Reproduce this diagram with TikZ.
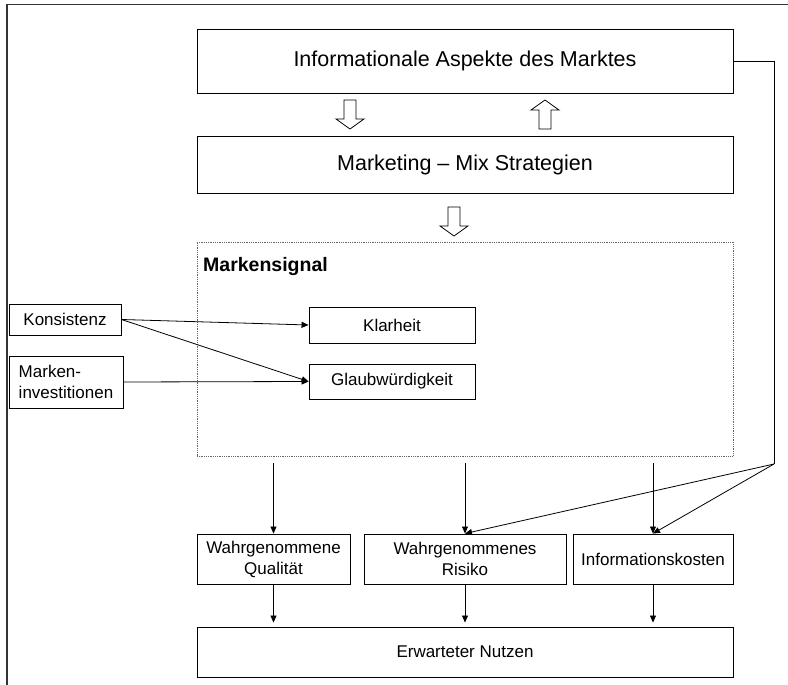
\documentclass[tikz,border=0pt]{standalone}
\usepackage{fontspec}
\setmainfont{Liberation Sans}
\usetikzlibrary{arrows.meta}
\begin{document}
\begin{tikzpicture}[x=1pt,y=-1pt,
  framebox/.style={draw=black, line width=0.9pt, inner sep=0pt, align=center},
  bigtext/.style={font=\fontsize{21.5}{25}\selectfont},
  smalltext/.style={font=\fontsize{17}{21}\selectfont},
  plainline/.style={line width=0.8pt},
  conn/.style={line width=0.8pt, -{Triangle[length=7pt,width=6pt]}},
  openarrow/.pic={\draw[line width=0.8pt, fill=white]
    (-6,-14.5) -- (-6,4.5) -- (-14,4.5) -- (0,14.5) -- (14,4.5) -- (6,4.5) -- (6,-14.5) -- cycle;}
]
\useasboundingbox (0,0) rectangle (788,685);

% open frame along the top and left edge
\draw[line width=1.6pt, black!80] (788,4.5) -- (7,4.5) -- (7,685);

% upper boxes
\node[framebox, bigtext, minimum width=536pt, minimum height=64pt] (markt) at (465,61) {Informationale Aspekte des Marktes};
\node[framebox, bigtext, minimum width=536pt, minimum height=57pt] (mix) at (465,164.5) {Marketing -- Mix Strategien};

% hollow block arrows
\pic at (350,114.5) {openarrow};
\pic[rotate=180] at (545,114.5) {openarrow};
\pic at (454,221.5) {openarrow};

% brand signal area
\node[draw=black!60, line width=0.9pt, dash pattern=on 0.9pt off 0.9pt, minimum width=536pt, minimum height=214pt, inner sep=0pt] (signal) at (465,349) {};
\node[anchor=base west, inner sep=0pt, font=\fontsize{19.5}{22}\selectfont\bfseries] (signaltitle) at (203,271) {Markensignal};

\node[framebox, smalltext, minimum width=166pt, minimum height=36pt] (klar) at (392,325) {Klarheit};
\node[framebox, smalltext, minimum width=166pt, minimum height=35pt] (glaub) at (392,381.5) {Glaubwürdigkeit};

% drivers on the left
\node[framebox, smalltext, minimum width=112pt, minimum height=31pt] (kons) at (65,319.5) {Konsistenz};
\node[framebox, smalltext, minimum width=114pt, minimum height=52pt, align=left] (invest) at (66,382) {Marken-\\investitionen};

\draw[conn] (kons.east) -- (klar.west);
\draw[conn] (kons.east) -- (glaub.west);
\draw[conn] (invest.east) -- (glaub.west);

% perceived effects
\node[framebox, smalltext, minimum width=153pt, minimum height=50pt] (quali) at (273.5,559) {Wahrgenommene\\Qualität};
\node[framebox, smalltext, minimum width=202pt, minimum height=50pt] (risiko) at (465,559) {Wahrgenommenes\\Risiko};
\node[framebox, smalltext, minimum width=160pt, minimum height=50pt] (kosten) at (653,559) {Informationskosten};

\node[framebox, smalltext, minimum width=536pt, minimum height=50pt] (nutzen) at (465,652) {Erwarteter Nutzen};

\draw[conn, shorten <=7pt] (quali.north |- signal.south) -- (quali.north);
\draw[conn, shorten <=7pt] (risiko.north |- signal.south) -- (risiko.north);
\draw[conn, shorten <=7pt] (kosten.north |- signal.south) -- (kosten.north);

\draw[conn, shorten >=4pt] (quali.south) -- (quali.south |- nutzen.north);
\draw[conn, shorten >=4pt] (risiko.south) -- (risiko.south |- nutzen.north);
\draw[conn, shorten >=4pt] (kosten.south) -- (kosten.south |- nutzen.north);

% feedback line from the market box
\coordinate (bend) at (774,61);
\coordinate (split) at (774,464);
\draw[plainline] (markt.east) -- (bend) -- (split);
\draw[conn] (split) -- (risiko.north);
\draw[conn] (split) -- (kosten.north);
\end{tikzpicture}
\end{document}
